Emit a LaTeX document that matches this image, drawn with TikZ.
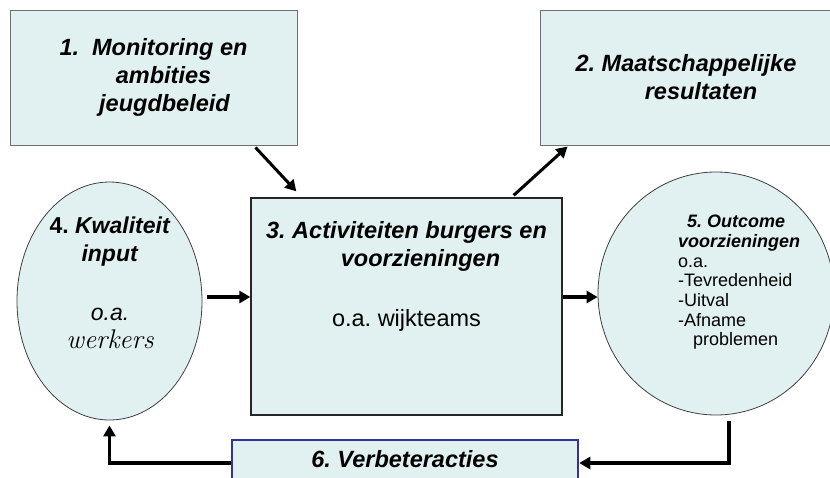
\documentclass[tikz,border=0pt]{standalone}
\usepackage{fontspec}
\setsansfont{Liberation Sans}
\usetikzlibrary{arrows.meta,shapes.geometric}
\frenchspacing

\definecolor{vakvul}{RGB}{225,241,241}
\definecolor{vaklijn}{RGB}{110,110,110}
\definecolor{verblijn}{RGB}{51,51,153}

\tikzset{
  vak/.style={draw=vaklijn, fill=vakvul, line width=1pt, inner sep=0pt, align=center,
    font=\sffamily\bfseries\itshape\fontsize{23.5}{28}\selectfont},
  ovaal/.style={ellipse, draw=black!75, fill=vakvul, line width=0.8pt, inner sep=0pt},
  titel/.style={inner sep=0pt, align=center, font=\sffamily\bfseries\itshape\fontsize{23.5}{28}\selectfont},
  tekstvier/.style={inner sep=0pt, align=center, font=\sffamily\fontsize{23}{28}\selectfont},
  tekstvijf/.style={inner sep=0pt, align=left, font=\sffamily\fontsize{18}{19.7}\selectfont},
  pijl/.style={line width=3.5pt, -{Triangle[length=11pt,width=12pt]}},
  schuin/.style={line width=3pt, -{Triangle[length=11pt,width=12pt]}},
}

\begin{document}
\begin{tikzpicture}[x=1pt,y=-1pt]
    \useasboundingbox (0,0) rectangle (830,477);

    % vakken
    \node[vak, minimum width=287pt, minimum height=135pt] (mon) at (153.5,77.5) {1.\ \ Monitoring en\\\hspace*{20pt}ambities\\\hspace*{22pt}jeugdbeleid};
    \node[vak, minimum width=292pt, minimum height=135pt] (maat) at (686,77.5) {2. Maatschappelijke\\\hspace*{30pt}resultaten};
    \node[vak, draw=black!85, line width=1.3pt, minimum width=311pt, minimum height=217pt] (act) at (406.5,306.5) {};
    \node[vak, draw=verblijn, line width=2.5pt, minimum width=346pt, minimum height=46pt, text depth=9pt] (verb) at (405,463) {6. Verbeteracties};

    % ovalen
    \node[ovaal, minimum width=185pt, minimum height=238pt] (kwal) at (109.5,301) {};
    \node[ovaal, minimum width=236pt, minimum height=243pt] (outc) at (716,293.5) {};

    % teksten
    \node[titel, anchor=north] (acttxt) at ([yshift=-24pt]act.north) {3. Activiteiten burgers en\\\hspace*{28pt}voorzieningen\\[32pt]{\normalfont\sffamily o.a. wijkteams}};
    \node[tekstvier, anchor=north] (kwaltxt) at (110,217) {\textbf{4.} \textbf{\textit{Kwaliteit}}\\\textbf{\textit{input}}\\[31pt]\textit{o.a.}\\{\rmfamily\itshape\fontsize{27}{28}\selectfont werkers}};
    \node[tekstvijf, anchor=north west] (outctxt) at (678,215) {\hspace*{9pt}\textbf{\textit{5. Outcome}}\\\textbf{\textit{voorzieningen}}\\o.a.\\-Tevredenheid\\-Uitval\\-Afname\\\hspace*{15pt}problemen};

    % pijlen
    \draw[schuin] ([xshift=-42pt,yshift=-2pt]mon.south east) -- ([xshift=46pt,yshift=6pt]act.north west);
    \draw[schuin] ([xshift=-49pt,yshift=2pt]act.north east) -- ([xshift=28pt,yshift=-1pt]maat.south west);
    \draw[pijl] ([xshift=5pt,yshift=4pt]kwal.east) -- ([yshift=9.5pt]act.west);
    \draw[pijl] ([yshift=9.5pt]act.east) -- ([yshift=-3.5pt]outc.west);
    \draw[pijl] ([xshift=13pt,yshift=-6pt]outc.south) |- (verb.east);
    \draw[pijl] (verb.west) -| ([yshift=-5pt]kwal.south);
\end{tikzpicture}
\end{document}
